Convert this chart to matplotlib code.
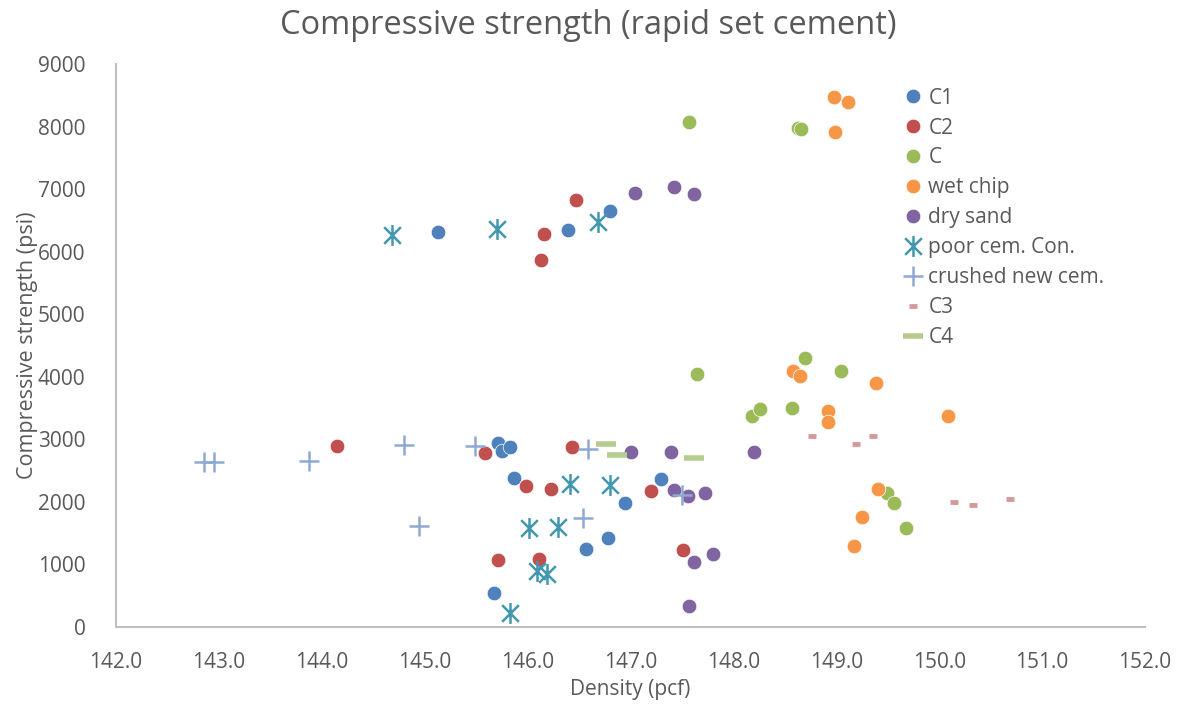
import numpy as np
import matplotlib
matplotlib.use("Agg")
import matplotlib.pyplot as plt
from matplotlib.path import Path

# Density (pcf) and compressive strength (psi) for each mix
c1_x = [145.13, 146.39, 146.80, 145.71, 145.75, 145.83, 145.87, 146.95, 147.30, 146.78, 146.57, 145.67]
c1_y = [6315, 6342, 6645, 2934, 2811, 2880, 2375, 1986, 2364, 1417, 1246, 548]

c2_x = [146.16, 146.13, 146.47, 144.15, 145.59, 146.43, 145.98, 146.23, 147.20, 145.71, 146.11, 147.51]
c2_y = [6283, 5863, 6821, 2897, 2774, 2880, 2257, 2200, 2173, 1075, 1081, 1225]

c_x = [147.57, 148.63, 148.66, 148.70, 149.05, 147.65, 148.18, 148.26, 148.57, 149.49, 149.56, 149.68]
c_y = [8067, 7985, 7965, 4302, 4085, 4041, 3371, 3478, 3503, 2136, 1976, 1587]

wet_x = [148.98, 149.11, 148.99, 148.58, 148.65, 149.39, 148.92, 148.92, 150.09, 149.41, 149.25, 149.17]
wet_y = [8471, 8391, 7907, 4085, 4005, 3903, 3450, 3280, 3371, 2200, 1763, 1294]

dry_x = [147.04, 147.42, 147.62, 147.00, 147.39, 148.20, 147.42, 147.56, 147.72, 147.62, 147.80, 147.57]
dry_y = [6938, 7034, 6928, 2790, 2790, 2803, 2184, 2093, 2136, 1033, 1166, 335]

poor_x = [144.68, 145.70, 146.68, 146.41, 146.80, 146.01, 146.30, 146.09, 146.19, 145.83]
poor_y = [6262, 6358, 6475, 2280, 2268, 1587, 1603, 895, 847, 219]

crushed_x = [142.85, 142.95, 143.88, 144.80, 145.49, 146.59, 144.94, 146.54, 147.50]
crushed_y = [2631, 2631, 2647, 2907, 2897, 2843, 1613, 1737, 2114]

c3_x = [148.76, 149.19, 149.36, 150.14, 150.33, 150.69]
c3_y = [3051, 2918, 3051, 1997, 1949, 2040]

c4_x = [146.76, 146.87, 147.62]
c4_y = [2928, 2742, 2705]

x_ticks = np.arange(142, 153, 1)
y_ticks = np.arange(0, 10000, 1000)

# six-armed star: vertical stroke plus an X
star = Path([(0, -1), (0, 1), (-0.8, -0.8), (0.8, 0.8), (-0.8, 0.8), (0.8, -0.8)],
            [Path.MOVETO, Path.LINETO, Path.MOVETO, Path.LINETO, Path.MOVETO, Path.LINETO])

plt.rcParams["font.family"] = ["Open Sans", "DejaVu Sans"]
text_color = "#595959"

fig = plt.figure(figsize=(11.77, 7.06), dpi=100)
ax = fig.add_axes([0.0986, 0.1119, 0.8742, 0.7974])

ax.plot(c1_x, c1_y, "o", ms=10.5, color="#4F81BD", mec="white", mew=0.5, label="C1")
ax.plot(c2_x, c2_y, "o", ms=10.5, color="#C0504D", mec="white", mew=0.5, label="C2")
ax.plot(c_x, c_y, "o", ms=10.5, color="#9BBB59", mec="white", mew=0.5, label="C")
ax.plot(wet_x, wet_y, "o", ms=10.5, color="#F79646", mec="white", mew=0.5, label="wet chip")
ax.plot(dry_x, dry_y, "o", ms=10.5, color="#8064A2", mec="white", mew=0.5, label="dry sand")
ax.plot(poor_x, poor_y, ls="none", marker=star, ms=15, mec="#4198AF", mew=1.8,
        label="poor cem. Con.")
ax.plot(crushed_x, crushed_y, ls="none", marker="+", ms=15, mec="#8EA9D4", mew=1.8,
        label="crushed new cem.")
ax.plot(c3_x, c3_y, ls="none", marker="_", ms=5.5, mec="#D49A99", mew=3.5, label="C3")
ax.plot(c4_x, c4_y, ls="none", marker="_", ms=14, mec="#B5CC8E", mew=4, label="C4")

ax.set_xlim(142, 152)
ax.set_ylim(0, 9000)
ax.set_xticks(x_ticks)
ax.set_yticks(y_ticks)
ax.set_xticklabels([f"{t:.1f}" for t in x_ticks])
ax.tick_params(length=0, labelsize=15, labelcolor=text_color)
ax.tick_params(axis="x", pad=18)
ax.tick_params(axis="y", pad=22)

for side in ["top", "right"]:
    ax.spines[side].set_visible(False)
for side in ["left", "bottom"]:
    ax.spines[side].set_color("#BFBFBF")
    ax.spines[side].set_linewidth(1.5)

fig.text(0.5, 1 - 25 / 706, "Compressive strength (rapid set cement)", fontsize=23.5,
         color=text_color, ha="center", va="center")
ax.set_xlabel("Density (pcf)", fontsize=15, color=text_color, labelpad=4)
ax.set_ylabel("Compressive strength (psi)", fontsize=15.5, color=text_color, labelpad=0)

ax.legend(loc="upper left", bbox_to_anchor=(0.757, 0.973), frameon=False, fontsize=15,
          labelcolor=text_color, handlelength=0.9, handletextpad=0.3,
          labelspacing=0.43, borderaxespad=0)

fig.savefig("out.png", dpi=100)
